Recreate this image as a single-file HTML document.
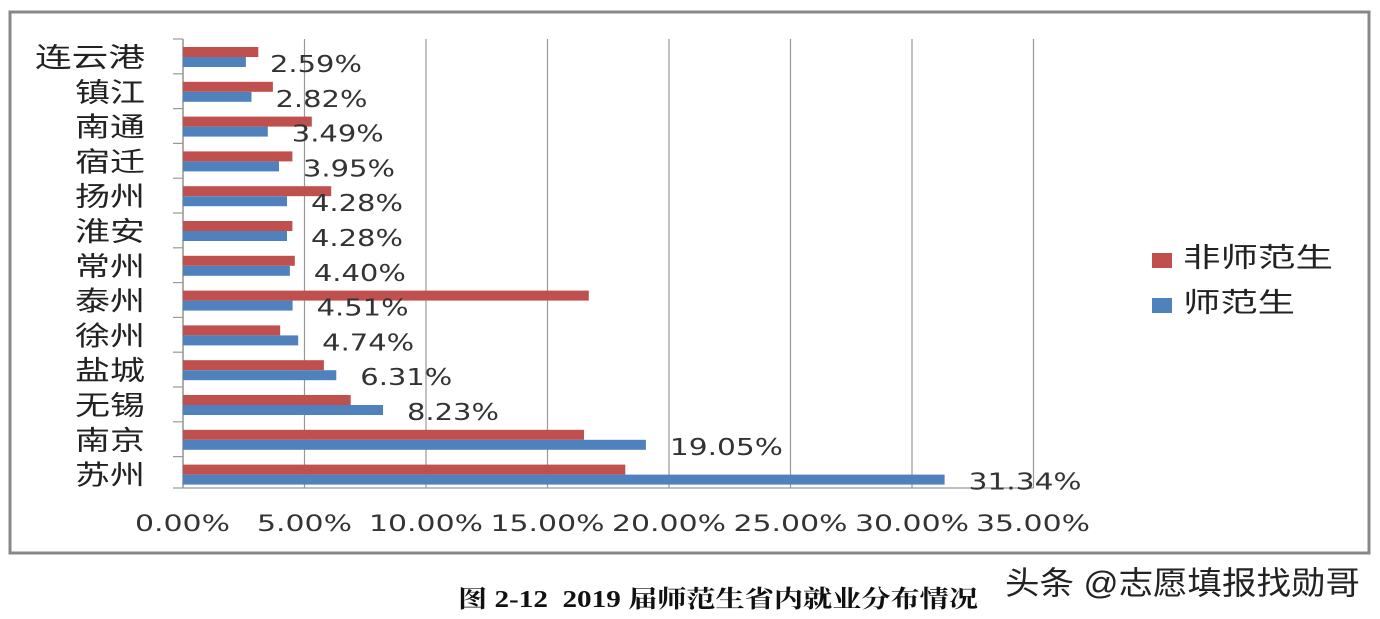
<!DOCTYPE html>
<html><head><meta charset="utf-8"><style>
body{margin:0;background:#fff;width:1380px;height:619px;overflow:hidden}
svg{display:block}
</style></head><body>
<svg width="1380" height="619" xmlns="http://www.w3.org/2000/svg" font-family="DejaVu Sans, Liberation Sans, Noto Sans CJK SC, sans-serif">
<rect x="10" y="12" width="1359" height="541" fill="#fff" stroke="#888" stroke-width="3"/>
<g stroke="#999" stroke-width="1.2">
<line x1="304.5" y1="39" x2="304.5" y2="488"/><line x1="426" y1="39" x2="426" y2="488"/>
<line x1="547.5" y1="39" x2="547.5" y2="488"/><line x1="669" y1="39" x2="669" y2="488"/>
<line x1="790.5" y1="39" x2="790.5" y2="488"/><line x1="912" y1="39" x2="912" y2="488"/>
<line x1="1033.5" y1="39" x2="1033.5" y2="488"/>
<line x1="183" y1="39" x2="183" y2="488" stroke="#777"/>
<line x1="183" y1="488" x2="1033.5" y2="488"/>
<line x1="173" y1="39" x2="183" y2="39"/><line x1="173" y1="73.8" x2="183" y2="73.8"/>
<line x1="173" y1="108.6" x2="183" y2="108.6"/><line x1="173" y1="143.4" x2="183" y2="143.4"/>
<line x1="173" y1="178.2" x2="183" y2="178.2"/><line x1="173" y1="213" x2="183" y2="213"/>
<line x1="173" y1="247.8" x2="183" y2="247.8"/><line x1="173" y1="282.6" x2="183" y2="282.6"/>
<line x1="173" y1="317.4" x2="183" y2="317.4"/><line x1="173" y1="352.2" x2="183" y2="352.2"/>
<line x1="173" y1="387" x2="183" y2="387"/><line x1="173" y1="421.8" x2="183" y2="421.8"/>
<line x1="173" y1="456.6" x2="183" y2="456.6"/><line x1="173" y1="488" x2="183" y2="488"/>
</g>
<g fill="#c0504d">
<rect x="183" y="47" width="75.3" height="10"/>
<rect x="183" y="81.8" width="89.9" height="10"/>
<rect x="183" y="116.6" width="128.8" height="10"/>
<rect x="183" y="151.4" width="109.4" height="10"/>
<rect x="183" y="186.2" width="148.2" height="10"/>
<rect x="183" y="221" width="109.4" height="10"/>
<rect x="183" y="255.8" width="111.8" height="10"/>
<rect x="183" y="290.6" width="405.8" height="10"/>
<rect x="183" y="325.4" width="97.2" height="10"/>
<rect x="183" y="360.2" width="140.9" height="10"/>
<rect x="183" y="395" width="167.7" height="10"/>
<rect x="183" y="429.8" width="401" height="10"/>
<rect x="183" y="464.6" width="442.3" height="10"/>
</g>
<g fill="#4f81bd">
<rect x="183" y="57" width="62.9" height="10"/>
<rect x="183" y="91.8" width="68.5" height="10"/>
<rect x="183" y="126.6" width="84.8" height="10"/>
<rect x="183" y="161.4" width="96" height="10"/>
<rect x="183" y="196.2" width="104" height="10"/>
<rect x="183" y="231" width="104" height="10"/>
<rect x="183" y="265.8" width="106.9" height="10"/>
<rect x="183" y="300.6" width="109.6" height="10"/>
<rect x="183" y="335.4" width="115.2" height="10"/>
<rect x="183" y="370.2" width="153.3" height="10"/>
<rect x="183" y="405" width="200" height="10"/>
<rect x="183" y="439.8" width="462.9" height="10"/>
<rect x="183" y="474.6" width="761.6" height="10"/>
</g>
<g font-size="23" fill="#333">
<text x="270" y="72" textLength="92" lengthAdjust="spacingAndGlyphs">2.59%</text>
<text x="275.5" y="106.8" textLength="92" lengthAdjust="spacingAndGlyphs">2.82%</text>
<text x="291.8" y="141.6" textLength="92" lengthAdjust="spacingAndGlyphs">3.49%</text>
<text x="303" y="176.4" textLength="92" lengthAdjust="spacingAndGlyphs">3.95%</text>
<text x="311" y="211.2" textLength="92" lengthAdjust="spacingAndGlyphs">4.28%</text>
<text x="311" y="246" textLength="92" lengthAdjust="spacingAndGlyphs">4.28%</text>
<text x="313.9" y="280.8" textLength="92" lengthAdjust="spacingAndGlyphs">4.40%</text>
<text x="316.6" y="315.6" textLength="92" lengthAdjust="spacingAndGlyphs">4.51%</text>
<text x="322.2" y="350.4" textLength="92" lengthAdjust="spacingAndGlyphs">4.74%</text>
<text x="360.3" y="385.2" textLength="92" lengthAdjust="spacingAndGlyphs">6.31%</text>
<text x="407" y="420" textLength="92" lengthAdjust="spacingAndGlyphs">8.23%</text>
<text x="669.9" y="454.8" textLength="113" lengthAdjust="spacingAndGlyphs">19.05%</text>
<text x="968.6" y="489.6" textLength="113" lengthAdjust="spacingAndGlyphs">31.34%</text>
</g>
<g font-size="27" fill="#222" font-family="Liberation Sans, Noto Sans CJK SC, sans-serif">
<text x="35" y="67" textLength="110" lengthAdjust="spacingAndGlyphs">连云港</text>
<text x="75" y="101.8" textLength="70" lengthAdjust="spacingAndGlyphs">镇江</text>
<text x="75" y="136.6" textLength="70" lengthAdjust="spacingAndGlyphs">南通</text>
<text x="75" y="171.4" textLength="70" lengthAdjust="spacingAndGlyphs">宿迁</text>
<text x="75" y="206.2" textLength="70" lengthAdjust="spacingAndGlyphs">扬州</text>
<text x="75" y="241" textLength="70" lengthAdjust="spacingAndGlyphs">淮安</text>
<text x="75" y="275.8" textLength="70" lengthAdjust="spacingAndGlyphs">常州</text>
<text x="75" y="310.6" textLength="70" lengthAdjust="spacingAndGlyphs">泰州</text>
<text x="75" y="345.4" textLength="70" lengthAdjust="spacingAndGlyphs">徐州</text>
<text x="75" y="380.2" textLength="70" lengthAdjust="spacingAndGlyphs">盐城</text>
<text x="75" y="415" textLength="70" lengthAdjust="spacingAndGlyphs">无锡</text>
<text x="75" y="449.8" textLength="70" lengthAdjust="spacingAndGlyphs">南京</text>
<text x="75" y="484.6" textLength="70" lengthAdjust="spacingAndGlyphs">苏州</text>
</g>
<g font-size="22" fill="#333">
<text x="135" y="531" textLength="95" lengthAdjust="spacingAndGlyphs">0.00%</text>
<text x="257" y="531" textLength="95" lengthAdjust="spacingAndGlyphs">5.00%</text>
<text x="369" y="531" textLength="114" lengthAdjust="spacingAndGlyphs">10.00%</text>
<text x="490.5" y="531" textLength="114" lengthAdjust="spacingAndGlyphs">15.00%</text>
<text x="612" y="531" textLength="114" lengthAdjust="spacingAndGlyphs">20.00%</text>
<text x="733.5" y="531" textLength="114" lengthAdjust="spacingAndGlyphs">25.00%</text>
<text x="855" y="531" textLength="114" lengthAdjust="spacingAndGlyphs">30.00%</text>
<text x="976" y="531" textLength="114" lengthAdjust="spacingAndGlyphs">35.00%</text>
</g>
<rect x="1152" y="253" width="20" height="15" fill="#c0504d"/>
<text x="1183" y="267" font-size="27" fill="#222" textLength="150" lengthAdjust="spacingAndGlyphs" font-family="Liberation Sans, Noto Sans CJK SC, sans-serif">非师范生</text>
<rect x="1152" y="298" width="20" height="15" fill="#4f81bd"/>
<text x="1183" y="312" font-size="27" fill="#222" textLength="112" lengthAdjust="spacingAndGlyphs" font-family="Liberation Sans, Noto Sans CJK SC, sans-serif">师范生</text>
<text x="458" y="607" font-size="24" font-weight="bold" textLength="520" lengthAdjust="spacingAndGlyphs" font-family="Liberation Serif, Noto Serif CJK SC, serif" fill="#111" xml:space="preserve">图 2-12  2019 届师范生省内就业分布情况</text>
<text x="1005" y="594" font-size="32" fill="#222" textLength="355" lengthAdjust="spacingAndGlyphs" font-family="Liberation Sans, Noto Sans CJK SC, sans-serif">头条 @志愿填报找勋哥</text>
</svg>
</body></html>
